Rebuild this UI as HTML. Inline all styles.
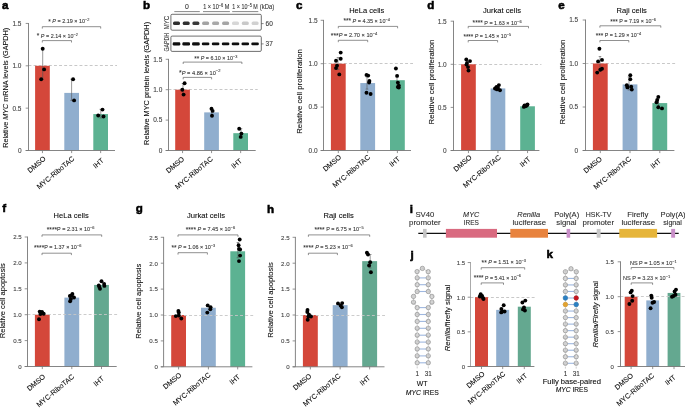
<!DOCTYPE html>
<html><head><meta charset="utf-8"><style>
html,body{margin:0;padding:0;background:#fff;overflow:hidden;}
svg{display:block;font-family:"Liberation Sans", sans-serif;will-change:transform;} text{stroke:#333;stroke-width:0.16px;stroke-opacity:0.55} text.nt{stroke:none} text.lt{stroke:#000;stroke-width:0.55px;stroke-opacity:1}
</style></head><body>
<svg width="685" height="408" viewBox="0 0 685 408">
<rect width="685" height="408" fill="#fff"/>
<line x1="28.50" y1="65.50" x2="117.00" y2="65.50" stroke="#c2c2c2" stroke-width="0.9" stroke-dasharray="2.9 2.2"/>
<rect x="35.10" y="65.80" width="14.70" height="84.70" fill="#d4473a"/>
<rect x="64.30" y="92.90" width="14.70" height="57.60" fill="#90aece"/>
<rect x="93.30" y="114.08" width="14.70" height="36.42" fill="#5cb292"/>
<line x1="42.70" y1="48.80" x2="42.70" y2="79.20" stroke="#555" stroke-width="0.6" />
<line x1="41.40" y1="48.80" x2="44.00" y2="48.80" stroke="#555" stroke-width="0.6" />
<line x1="41.40" y1="79.20" x2="44.00" y2="79.20" stroke="#555" stroke-width="0.6" />
<line x1="71.60" y1="79.20" x2="71.60" y2="100.40" stroke="#555" stroke-width="0.6" />
<line x1="70.30" y1="79.20" x2="72.90" y2="79.20" stroke="#555" stroke-width="0.6" />
<line x1="70.30" y1="100.40" x2="72.90" y2="100.40" stroke="#555" stroke-width="0.6" />
<line x1="100.80" y1="109.30" x2="100.80" y2="118.00" stroke="#555" stroke-width="0.6" />
<line x1="99.50" y1="109.30" x2="102.10" y2="109.30" stroke="#555" stroke-width="0.6" />
<line x1="99.50" y1="118.00" x2="102.10" y2="118.00" stroke="#555" stroke-width="0.6" />
<circle cx="42.70" cy="48.80" r="1.95" fill="#000" />
<circle cx="44.10" cy="69.40" r="1.95" fill="#000" />
<circle cx="41.20" cy="79.20" r="1.95" fill="#000" />
<circle cx="73.10" cy="79.20" r="1.95" fill="#000" />
<circle cx="74.10" cy="100.40" r="1.95" fill="#000" />
<circle cx="102.50" cy="109.60" r="1.95" fill="#000" />
<circle cx="98.20" cy="115.50" r="1.95" fill="#000" />
<circle cx="103.50" cy="116.50" r="1.95" fill="#000" />
<line x1="28.50" y1="23.05" x2="28.50" y2="150.50" stroke="#777" stroke-width="0.9" />
<line x1="25.70" y1="150.50" x2="115.00" y2="150.50" stroke="#777" stroke-width="0.9" />
<line x1="25.70" y1="150.50" x2="28.50" y2="150.50" stroke="#777" stroke-width="0.8" />
<text transform="translate(21.50,152.85)" font-size="6.5" text-anchor="end" fill="#444" >0</text>
<line x1="25.70" y1="108.15" x2="28.50" y2="108.15" stroke="#777" stroke-width="0.8" />
<text transform="translate(21.50,110.50)" font-size="6.5" text-anchor="end" fill="#444" >0.5</text>
<line x1="25.70" y1="65.80" x2="28.50" y2="65.80" stroke="#777" stroke-width="0.8" />
<text transform="translate(21.50,68.15)" font-size="6.5" text-anchor="end" fill="#444" >1.0</text>
<line x1="25.70" y1="23.45" x2="28.50" y2="23.45" stroke="#777" stroke-width="0.8" />
<text transform="translate(21.50,25.80)" font-size="6.5" text-anchor="end" fill="#444" >1.5</text>
<line x1="42.45" y1="150.50" x2="42.45" y2="153.10" stroke="#777" stroke-width="0.8" />
<text transform="translate(46.35,159.50) rotate(-40)" font-size="7.15" text-anchor="end" >DMSO</text>
<line x1="71.65" y1="150.50" x2="71.65" y2="153.10" stroke="#777" stroke-width="0.8" />
<text transform="translate(75.05,159.50) rotate(-40)" font-size="7.15" text-anchor="end" >MYC-RiboTAC</text>
<line x1="100.65" y1="150.50" x2="100.65" y2="153.10" stroke="#777" stroke-width="0.8" />
<text transform="translate(104.25,161.30) rotate(-40)" font-size="7.15" text-anchor="end" >IHT</text>
<text transform="translate(7.90,147.80) rotate(-90) scale(1.0962,1)" font-size="6.6" >Relative <tspan font-style="italic">MYC</tspan> mRNA levels (GAPDH)</text>
<path d="M42.30,28.60 V26.70 H100.70 V28.60" fill="none" stroke="#555" stroke-width="0.65"/>
<text transform="translate(48.30,23.40) scale(0.9092,1)" font-size="6.0" fill="#333" ><tspan font-size="1.2em" dy="0.60">*</tspan><tspan dy="-0.60"> </tspan><tspan font-style="italic">P</tspan> = 2.19 × 10<tspan font-size="0.72em" dy="-2.10">−2</tspan></text>
<path d="M42.30,42.50 V40.60 H71.50 V42.50" fill="none" stroke="#555" stroke-width="0.65"/>
<text transform="translate(36.80,37.80) scale(0.9048,1)" font-size="6.0" fill="#333" ><tspan font-size="1.2em" dy="0.60">*</tspan><tspan dy="-0.60"> </tspan><tspan font-style="italic">P</tspan> = 2.14 × 10<tspan font-size="0.72em" dy="-2.10">−2</tspan></text>
<text transform="translate(2.11,8.50)" font-size="11.6" font-weight="bold" fill="#000" class="lt">a</text>
<line x1="168.50" y1="89.50" x2="257.70" y2="89.50" stroke="#c2c2c2" stroke-width="0.9" stroke-dasharray="2.9 2.2"/>
<rect x="175.20" y="89.70" width="14.70" height="60.80" fill="#d4473a"/>
<rect x="204.20" y="112.38" width="14.70" height="38.12" fill="#90aece"/>
<rect x="233.30" y="133.17" width="14.70" height="17.33" fill="#5cb292"/>
<line x1="183.00" y1="83.50" x2="183.00" y2="95.50" stroke="#555" stroke-width="0.6" />
<line x1="181.70" y1="83.50" x2="184.30" y2="83.50" stroke="#555" stroke-width="0.6" />
<line x1="181.70" y1="95.50" x2="184.30" y2="95.50" stroke="#555" stroke-width="0.6" />
<line x1="211.80" y1="108.50" x2="211.80" y2="116.00" stroke="#555" stroke-width="0.6" />
<line x1="210.50" y1="108.50" x2="213.10" y2="108.50" stroke="#555" stroke-width="0.6" />
<line x1="210.50" y1="116.00" x2="213.10" y2="116.00" stroke="#555" stroke-width="0.6" />
<line x1="241.00" y1="128.70" x2="241.00" y2="137.00" stroke="#555" stroke-width="0.6" />
<line x1="239.70" y1="128.70" x2="242.30" y2="128.70" stroke="#555" stroke-width="0.6" />
<line x1="239.70" y1="137.00" x2="242.30" y2="137.00" stroke="#555" stroke-width="0.6" />
<circle cx="184.60" cy="83.20" r="1.95" fill="#000" />
<circle cx="182.30" cy="89.70" r="1.95" fill="#000" />
<circle cx="183.60" cy="94.60" r="1.95" fill="#000" />
<circle cx="211.50" cy="108.70" r="1.95" fill="#000" />
<circle cx="212.60" cy="110.90" r="1.95" fill="#000" />
<circle cx="212.00" cy="115.80" r="1.95" fill="#000" />
<circle cx="239.20" cy="128.70" r="1.95" fill="#000" />
<circle cx="241.40" cy="133.60" r="1.95" fill="#000" />
<circle cx="240.70" cy="136.90" r="1.95" fill="#000" />
<line x1="168.50" y1="58.90" x2="168.50" y2="150.50" stroke="#777" stroke-width="0.9" />
<line x1="165.70" y1="150.50" x2="255.70" y2="150.50" stroke="#777" stroke-width="0.9" />
<line x1="165.70" y1="150.50" x2="168.50" y2="150.50" stroke="#777" stroke-width="0.8" />
<text transform="translate(162.30,152.85)" font-size="6.5" text-anchor="end" fill="#444" >0</text>
<line x1="165.70" y1="120.10" x2="168.50" y2="120.10" stroke="#777" stroke-width="0.8" />
<text transform="translate(162.30,122.45)" font-size="6.5" text-anchor="end" fill="#444" >0.5</text>
<line x1="165.70" y1="89.70" x2="168.50" y2="89.70" stroke="#777" stroke-width="0.8" />
<text transform="translate(162.30,92.05)" font-size="6.5" text-anchor="end" fill="#444" >1.0</text>
<line x1="165.70" y1="59.30" x2="168.50" y2="59.30" stroke="#777" stroke-width="0.8" />
<text transform="translate(162.30,61.65)" font-size="6.5" text-anchor="end" fill="#444" >1.5</text>
<line x1="182.55" y1="150.50" x2="182.55" y2="153.10" stroke="#777" stroke-width="0.8" />
<text transform="translate(184.85,159.80) rotate(-40)" font-size="7.15" text-anchor="end" >DMSO</text>
<line x1="211.55" y1="150.50" x2="211.55" y2="153.10" stroke="#777" stroke-width="0.8" />
<text transform="translate(213.35,159.80) rotate(-40)" font-size="7.15" text-anchor="end" >MYC-RiboTAC</text>
<line x1="240.65" y1="150.50" x2="240.65" y2="153.10" stroke="#777" stroke-width="0.8" />
<text transform="translate(242.65,161.60) rotate(-40)" font-size="7.15" text-anchor="end" >IHT</text>
<text transform="translate(148.90,144.90) rotate(-90) scale(1.1122,1)" font-size="6.6" >Relative MYC protein levels (GAPDH)</text>
<path d="M183.20,64.00 V62.10 H241.90 V64.00" fill="none" stroke="#555" stroke-width="0.65"/>
<text transform="translate(194.20,60.20) scale(0.8937,1)" font-size="6.0" fill="#333" ><tspan font-size="1.2em" dy="0.60">**</tspan><tspan dy="-0.60"> </tspan><tspan font-style="italic">P</tspan> = 6.10 × 10<tspan font-size="0.72em" dy="-2.10">−3</tspan></text>
<path d="M183.20,79.30 V77.40 H211.60 V79.30" fill="none" stroke="#555" stroke-width="0.65"/>
<text transform="translate(179.10,74.50) scale(0.9461,1)" font-size="6.0" fill="#333" ><tspan font-size="1.2em" dy="0.60">*</tspan><tspan font-style="italic" dy="-0.60">P</tspan> = 4.86 × 10<tspan font-size="0.72em" dy="-2.10">−2</tspan></text>
<text transform="translate(142.99,8.50)" font-size="11.6" font-weight="bold" fill="#000" class="lt">b</text>
<line x1="323.50" y1="63.50" x2="413.00" y2="63.50" stroke="#c2c2c2" stroke-width="0.9" stroke-dasharray="2.9 2.2"/>
<rect x="330.90" y="63.70" width="14.80" height="86.80" fill="#d4473a"/>
<rect x="360.30" y="83.06" width="14.80" height="67.44" fill="#90aece"/>
<rect x="390.00" y="80.19" width="14.80" height="70.31" fill="#5cb292"/>
<line x1="338.00" y1="57.50" x2="338.00" y2="69.50" stroke="#555" stroke-width="0.6" />
<line x1="336.70" y1="57.50" x2="339.30" y2="57.50" stroke="#555" stroke-width="0.6" />
<line x1="336.70" y1="69.50" x2="339.30" y2="69.50" stroke="#555" stroke-width="0.6" />
<line x1="367.00" y1="77.00" x2="367.00" y2="89.10" stroke="#555" stroke-width="0.6" />
<line x1="365.70" y1="77.00" x2="368.30" y2="77.00" stroke="#555" stroke-width="0.6" />
<line x1="365.70" y1="89.10" x2="368.30" y2="89.10" stroke="#555" stroke-width="0.6" />
<line x1="397.00" y1="75.00" x2="397.00" y2="87.00" stroke="#555" stroke-width="0.6" />
<line x1="395.70" y1="75.00" x2="398.30" y2="75.00" stroke="#555" stroke-width="0.6" />
<line x1="395.70" y1="87.00" x2="398.30" y2="87.00" stroke="#555" stroke-width="0.6" />
<circle cx="340.70" cy="52.60" r="1.95" fill="#000" />
<circle cx="340.70" cy="58.70" r="1.95" fill="#000" />
<circle cx="336.00" cy="60.70" r="1.95" fill="#000" />
<circle cx="337.00" cy="65.60" r="1.95" fill="#000" />
<circle cx="336.00" cy="68.10" r="1.95" fill="#000" />
<circle cx="339.30" cy="74.40" r="1.95" fill="#000" />
<circle cx="366.50" cy="74.90" r="1.95" fill="#000" />
<circle cx="368.20" cy="75.60" r="1.95" fill="#000" />
<circle cx="369.40" cy="81.00" r="1.95" fill="#000" />
<circle cx="369.10" cy="82.50" r="1.95" fill="#000" />
<circle cx="366.50" cy="92.80" r="1.95" fill="#000" />
<circle cx="370.60" cy="94.00" r="1.95" fill="#000" />
<circle cx="395.90" cy="68.50" r="1.95" fill="#000" />
<circle cx="397.10" cy="75.90" r="1.95" fill="#000" />
<circle cx="397.90" cy="82.60" r="1.95" fill="#000" />
<circle cx="398.80" cy="85.60" r="1.95" fill="#000" />
<circle cx="397.90" cy="87.10" r="1.95" fill="#000" />
<circle cx="398.80" cy="87.60" r="1.95" fill="#000" />
<line x1="323.50" y1="19.90" x2="323.50" y2="150.50" stroke="#777" stroke-width="0.9" />
<line x1="320.70" y1="150.50" x2="411.00" y2="150.50" stroke="#777" stroke-width="0.9" />
<line x1="320.70" y1="150.50" x2="323.50" y2="150.50" stroke="#777" stroke-width="0.8" />
<text transform="translate(317.60,152.85)" font-size="6.5" text-anchor="end" fill="#444" >0.0</text>
<line x1="320.70" y1="107.10" x2="323.50" y2="107.10" stroke="#777" stroke-width="0.8" />
<text transform="translate(317.60,109.45)" font-size="6.5" text-anchor="end" fill="#444" >0.5</text>
<line x1="320.70" y1="63.70" x2="323.50" y2="63.70" stroke="#777" stroke-width="0.8" />
<text transform="translate(317.60,66.05)" font-size="6.5" text-anchor="end" fill="#444" >1.0</text>
<line x1="320.70" y1="20.30" x2="323.50" y2="20.30" stroke="#777" stroke-width="0.8" />
<text transform="translate(317.60,22.65)" font-size="6.5" text-anchor="end" fill="#444" >1.5</text>
<line x1="338.30" y1="150.50" x2="338.30" y2="153.10" stroke="#777" stroke-width="0.8" />
<text transform="translate(341.80,158.00) rotate(-40)" font-size="7.15" text-anchor="end" >DMSO</text>
<line x1="367.70" y1="150.50" x2="367.70" y2="153.10" stroke="#777" stroke-width="0.8" />
<text transform="translate(370.70,158.00) rotate(-40)" font-size="7.15" text-anchor="end" >MYC-RiboTAC</text>
<line x1="397.40" y1="150.50" x2="397.40" y2="153.10" stroke="#777" stroke-width="0.8" />
<text transform="translate(400.60,159.80) rotate(-40)" font-size="7.15" text-anchor="end" >IHT</text>
<text transform="translate(301.80,133.80) rotate(-90) scale(1.1780,1)" font-size="6.6" >Relative cell proliferation</text>
<path d="M338.30,28.30 V26.40 H397.60 V28.30" fill="none" stroke="#555" stroke-width="0.65"/>
<text transform="translate(343.40,22.60) scale(0.9132,1)" font-size="6.0" fill="#333" ><tspan font-size="1.2em" dy="0.60">***</tspan><tspan dy="-0.60"> </tspan><tspan font-style="italic">P</tspan> = 4.35 × 10<tspan font-size="0.72em" dy="-2.10">−4</tspan></text>
<path d="M338.30,42.20 V40.30 H367.70 V42.20" fill="none" stroke="#555" stroke-width="0.65"/>
<text transform="translate(330.80,37.30) scale(0.9441,1)" font-size="6.0" fill="#333" ><tspan font-size="1.2em" dy="0.60">***</tspan><tspan font-style="italic" dy="-0.60">P</tspan> = 2.70 × 10<tspan font-size="0.72em" dy="-2.10">−4</tspan></text>
<text transform="translate(349.20,13.40) scale(0.9763,1)" font-size="7.7" >HeLa cells</text>
<text transform="translate(296.10,8.60)" font-size="11.6" font-weight="bold" fill="#000" class="lt">c</text>
<line x1="453.50" y1="64.50" x2="541.40" y2="64.50" stroke="#c2c2c2" stroke-width="0.9" stroke-dasharray="2.9 2.2"/>
<rect x="461.10" y="64.30" width="14.70" height="86.20" fill="#d4473a"/>
<rect x="490.60" y="88.44" width="14.70" height="62.06" fill="#90aece"/>
<rect x="520.20" y="106.28" width="14.70" height="44.22" fill="#5cb292"/>
<circle cx="466.30" cy="59.40" r="1.95" fill="#000" />
<circle cx="470.00" cy="61.10" r="1.95" fill="#000" />
<circle cx="467.00" cy="62.90" r="1.95" fill="#000" />
<circle cx="466.50" cy="64.60" r="1.95" fill="#000" />
<circle cx="468.00" cy="67.10" r="1.95" fill="#000" />
<circle cx="468.50" cy="70.60" r="1.95" fill="#000" />
<circle cx="498.90" cy="85.10" r="1.95" fill="#000" />
<circle cx="496.50" cy="86.90" r="1.95" fill="#000" />
<circle cx="497.00" cy="89.40" r="1.95" fill="#000" />
<circle cx="500.00" cy="90.30" r="1.95" fill="#000" />
<circle cx="498.00" cy="88.00" r="1.95" fill="#000" />
<circle cx="495.00" cy="88.50" r="1.95" fill="#000" />
<circle cx="525.40" cy="105.70" r="1.95" fill="#000" />
<circle cx="527.50" cy="104.50" r="1.95" fill="#000" />
<circle cx="523.90" cy="106.90" r="1.95" fill="#000" />
<circle cx="526.00" cy="106.00" r="1.95" fill="#000" />
<circle cx="524.50" cy="105.50" r="1.95" fill="#000" />
<circle cx="527.00" cy="105.20" r="1.95" fill="#000" />
<line x1="453.50" y1="20.80" x2="453.50" y2="150.50" stroke="#777" stroke-width="0.9" />
<line x1="450.70" y1="150.50" x2="539.40" y2="150.50" stroke="#777" stroke-width="0.9" />
<line x1="450.70" y1="150.50" x2="453.50" y2="150.50" stroke="#777" stroke-width="0.8" />
<text transform="translate(446.70,152.85)" font-size="6.5" text-anchor="end" fill="#444" >0</text>
<line x1="450.70" y1="107.40" x2="453.50" y2="107.40" stroke="#777" stroke-width="0.8" />
<text transform="translate(446.70,109.75)" font-size="6.5" text-anchor="end" fill="#444" >0.5</text>
<line x1="450.70" y1="64.30" x2="453.50" y2="64.30" stroke="#777" stroke-width="0.8" />
<text transform="translate(446.70,66.65)" font-size="6.5" text-anchor="end" fill="#444" >1.0</text>
<line x1="450.70" y1="21.20" x2="453.50" y2="21.20" stroke="#777" stroke-width="0.8" />
<text transform="translate(446.70,23.55)" font-size="6.5" text-anchor="end" fill="#444" >1.5</text>
<line x1="468.45" y1="150.50" x2="468.45" y2="153.10" stroke="#777" stroke-width="0.8" />
<text transform="translate(472.35,158.20) rotate(-40)" font-size="7.15" text-anchor="end" >DMSO</text>
<line x1="497.95" y1="150.50" x2="497.95" y2="153.10" stroke="#777" stroke-width="0.8" />
<text transform="translate(501.35,158.20) rotate(-40)" font-size="7.15" text-anchor="end" >MYC-RiboTAC</text>
<line x1="527.55" y1="150.50" x2="527.55" y2="153.10" stroke="#777" stroke-width="0.8" />
<text transform="translate(531.15,160.00) rotate(-40)" font-size="7.15" text-anchor="end" >IHT</text>
<text transform="translate(433.80,124.50) rotate(-90) scale(1.1808,1)" font-size="6.6" >Relative cell proliferation</text>
<path d="M468.20,28.30 V26.40 H528.50 V28.30" fill="none" stroke="#555" stroke-width="0.65"/>
<text transform="translate(472.60,24.70) scale(0.9140,1)" font-size="6.0" fill="#333" ><tspan font-size="1.2em" dy="0.60">****</tspan><tspan dy="-0.60"> </tspan>P = 1.63 × 10<tspan font-size="0.72em" dy="-2.10">−6</tspan></text>
<path d="M468.20,42.40 V40.50 H497.60 V42.40" fill="none" stroke="#555" stroke-width="0.65"/>
<text transform="translate(463.40,38.30) scale(0.8861,1)" font-size="6.0" fill="#333" ><tspan font-size="1.2em" dy="0.60">****</tspan><tspan dy="-0.60"> </tspan><tspan font-style="italic">P</tspan> = 1.45 × 10<tspan font-size="0.72em" dy="-2.10">−5</tspan></text>
<text transform="translate(483.00,13.40) scale(0.9893,1)" font-size="7.7" >Jurkat cells</text>
<text transform="translate(427.17,8.50)" font-size="11.6" font-weight="bold" fill="#000" class="lt">d</text>
<line x1="585.50" y1="63.50" x2="676.40" y2="63.50" stroke="#c2c2c2" stroke-width="0.9" stroke-dasharray="2.9 2.2"/>
<rect x="592.90" y="63.50" width="14.80" height="87.00" fill="#d4473a"/>
<rect x="622.60" y="84.38" width="14.80" height="66.12" fill="#90aece"/>
<rect x="652.40" y="103.08" width="14.80" height="47.42" fill="#5cb292"/>
<line x1="600.00" y1="56.50" x2="600.00" y2="71.00" stroke="#555" stroke-width="0.6" />
<line x1="598.70" y1="56.50" x2="601.30" y2="56.50" stroke="#555" stroke-width="0.6" />
<line x1="598.70" y1="71.00" x2="601.30" y2="71.00" stroke="#555" stroke-width="0.6" />
<line x1="629.00" y1="77.00" x2="629.00" y2="90.00" stroke="#555" stroke-width="0.6" />
<line x1="627.70" y1="77.00" x2="630.30" y2="77.00" stroke="#555" stroke-width="0.6" />
<line x1="627.70" y1="90.00" x2="630.30" y2="90.00" stroke="#555" stroke-width="0.6" />
<line x1="658.50" y1="99.00" x2="658.50" y2="107.00" stroke="#555" stroke-width="0.6" />
<line x1="657.20" y1="99.00" x2="659.80" y2="99.00" stroke="#555" stroke-width="0.6" />
<line x1="657.20" y1="107.00" x2="659.80" y2="107.00" stroke="#555" stroke-width="0.6" />
<circle cx="599.40" cy="48.80" r="1.95" fill="#000" />
<circle cx="602.00" cy="59.90" r="1.95" fill="#000" />
<circle cx="598.10" cy="61.40" r="1.95" fill="#000" />
<circle cx="602.00" cy="68.70" r="1.95" fill="#000" />
<circle cx="600.30" cy="69.80" r="1.95" fill="#000" />
<circle cx="597.20" cy="72.60" r="1.95" fill="#000" />
<circle cx="630.30" cy="75.30" r="1.95" fill="#000" />
<circle cx="630.30" cy="79.30" r="1.95" fill="#000" />
<circle cx="626.80" cy="85.20" r="1.95" fill="#000" />
<circle cx="627.40" cy="87.40" r="1.95" fill="#000" />
<circle cx="631.20" cy="86.80" r="1.95" fill="#000" />
<circle cx="631.80" cy="89.60" r="1.95" fill="#000" />
<circle cx="658.30" cy="96.90" r="1.95" fill="#000" />
<circle cx="657.20" cy="100.00" r="1.95" fill="#000" />
<circle cx="656.50" cy="102.20" r="1.95" fill="#000" />
<circle cx="658.30" cy="107.30" r="1.95" fill="#000" />
<circle cx="662.00" cy="108.40" r="1.95" fill="#000" />
<line x1="585.50" y1="19.60" x2="585.50" y2="150.50" stroke="#777" stroke-width="0.9" />
<line x1="582.70" y1="150.50" x2="674.40" y2="150.50" stroke="#777" stroke-width="0.9" />
<line x1="582.70" y1="150.50" x2="585.50" y2="150.50" stroke="#777" stroke-width="0.8" />
<text transform="translate(578.20,152.85)" font-size="6.5" text-anchor="end" fill="#444" >0</text>
<line x1="582.70" y1="107.00" x2="585.50" y2="107.00" stroke="#777" stroke-width="0.8" />
<text transform="translate(578.20,109.35)" font-size="6.5" text-anchor="end" fill="#444" >0.5</text>
<line x1="582.70" y1="63.50" x2="585.50" y2="63.50" stroke="#777" stroke-width="0.8" />
<text transform="translate(578.20,65.85)" font-size="6.5" text-anchor="end" fill="#444" >1.0</text>
<line x1="582.70" y1="20.00" x2="585.50" y2="20.00" stroke="#777" stroke-width="0.8" />
<text transform="translate(578.20,22.35)" font-size="6.5" text-anchor="end" fill="#444" >1.5</text>
<line x1="600.30" y1="150.50" x2="600.30" y2="153.10" stroke="#777" stroke-width="0.8" />
<text transform="translate(602.50,159.80) rotate(-40)" font-size="7.15" text-anchor="end" >DMSO</text>
<line x1="630.00" y1="150.50" x2="630.00" y2="153.10" stroke="#777" stroke-width="0.8" />
<text transform="translate(631.70,159.80) rotate(-40)" font-size="7.15" text-anchor="end" >MYC-RiboTAC</text>
<line x1="659.80" y1="150.50" x2="659.80" y2="153.10" stroke="#777" stroke-width="0.8" />
<text transform="translate(661.70,161.60) rotate(-40)" font-size="7.15" text-anchor="end" >IHT</text>
<text transform="translate(564.80,124.50) rotate(-90) scale(1.1808,1)" font-size="6.6" >Relative cell proliferation</text>
<path d="M599.90,27.70 V25.80 H660.80 V27.70" fill="none" stroke="#555" stroke-width="0.65"/>
<text transform="translate(610.20,23.20) scale(0.8995,1)" font-size="6.0" fill="#333" ><tspan font-size="1.2em" dy="0.60">***</tspan><tspan dy="-0.60"> </tspan>P = 7.19 × 10<tspan font-size="0.72em" dy="-2.10">−6</tspan></text>
<path d="M599.90,42.40 V40.50 H628.80 V42.40" fill="none" stroke="#555" stroke-width="0.65"/>
<text transform="translate(595.80,37.10) scale(0.8936,1)" font-size="6.0" fill="#333" ><tspan font-size="1.2em" dy="0.60">***</tspan><tspan dy="-0.60"> </tspan>P = 1.29 × 10<tspan font-size="0.72em" dy="-2.10">−4</tspan></text>
<text transform="translate(616.60,13.40) scale(0.9835,1)" font-size="7.7" >Raji cells</text>
<text transform="translate(558.30,8.60)" font-size="11.6" font-weight="bold" fill="#000" class="lt">e</text>
<rect x="34.90" y="314.70" width="14.80" height="51.80" fill="#d4473a"/>
<rect x="64.40" y="297.61" width="14.80" height="68.89" fill="#90aece"/>
<rect x="94.10" y="284.92" width="14.80" height="81.58" fill="#64a890"/>
<line x1="27.50" y1="314.50" x2="118.70" y2="314.50" stroke="#c6c6c6" stroke-width="0.9" stroke-dasharray="2.9 2.2"/>
<circle cx="39.70" cy="311.60" r="1.95" fill="#000" />
<circle cx="41.90" cy="312.60" r="1.95" fill="#000" />
<circle cx="43.70" cy="313.70" r="1.95" fill="#000" />
<circle cx="40.40" cy="314.10" r="1.95" fill="#000" />
<circle cx="39.00" cy="319.30" r="1.95" fill="#000" />
<circle cx="42.00" cy="312.00" r="1.95" fill="#000" />
<circle cx="72.40" cy="294.00" r="1.95" fill="#000" />
<circle cx="69.90" cy="296.00" r="1.95" fill="#000" />
<circle cx="74.00" cy="297.50" r="1.95" fill="#000" />
<circle cx="70.90" cy="299.00" r="1.95" fill="#000" />
<circle cx="70.10" cy="301.20" r="1.95" fill="#000" />
<circle cx="71.50" cy="295.50" r="1.95" fill="#000" />
<circle cx="101.50" cy="281.30" r="1.95" fill="#000" />
<circle cx="104.10" cy="284.00" r="1.95" fill="#000" />
<circle cx="98.80" cy="285.40" r="1.95" fill="#000" />
<circle cx="104.40" cy="285.90" r="1.95" fill="#000" />
<circle cx="100.00" cy="288.80" r="1.95" fill="#000" />
<circle cx="99.30" cy="286.90" r="1.95" fill="#000" />
<line x1="27.50" y1="236.60" x2="27.50" y2="366.50" stroke="#777" stroke-width="0.9" />
<line x1="24.70" y1="366.50" x2="116.70" y2="366.50" stroke="#777" stroke-width="0.9" />
<line x1="24.70" y1="366.50" x2="27.50" y2="366.50" stroke="#777" stroke-width="0.8" />
<text transform="translate(21.70,368.85)" font-size="6.1" text-anchor="end" fill="#444" >0</text>
<line x1="24.70" y1="340.60" x2="27.50" y2="340.60" stroke="#777" stroke-width="0.8" />
<text transform="translate(21.70,342.95)" font-size="6.1" text-anchor="end" fill="#444" >0.5</text>
<line x1="24.70" y1="314.70" x2="27.50" y2="314.70" stroke="#777" stroke-width="0.8" />
<text transform="translate(21.70,317.05)" font-size="6.1" text-anchor="end" fill="#444" >1.0</text>
<line x1="24.70" y1="288.80" x2="27.50" y2="288.80" stroke="#777" stroke-width="0.8" />
<text transform="translate(21.70,291.15)" font-size="6.1" text-anchor="end" fill="#444" >1.5</text>
<line x1="24.70" y1="262.90" x2="27.50" y2="262.90" stroke="#777" stroke-width="0.8" />
<text transform="translate(21.70,265.25)" font-size="6.1" text-anchor="end" fill="#444" >2.0</text>
<line x1="24.70" y1="237.00" x2="27.50" y2="237.00" stroke="#777" stroke-width="0.8" />
<text transform="translate(21.70,239.35)" font-size="6.1" text-anchor="end" fill="#444" >2.5</text>
<line x1="42.30" y1="366.50" x2="42.30" y2="369.10" stroke="#777" stroke-width="0.8" />
<text transform="translate(45.80,377.50) rotate(-40)" font-size="7.15" text-anchor="end" >DMSO</text>
<line x1="71.80" y1="366.50" x2="71.80" y2="369.10" stroke="#777" stroke-width="0.8" />
<text transform="translate(74.80,377.50) rotate(-40)" font-size="7.15" text-anchor="end" >MYC-RiboTAC</text>
<line x1="101.50" y1="366.50" x2="101.50" y2="369.10" stroke="#777" stroke-width="0.8" />
<text transform="translate(104.70,379.30) rotate(-40)" font-size="7.15" text-anchor="end" >IHT</text>
<text transform="translate(5.30,338.20) rotate(-90) scale(1.1436,1)" font-size="6.6" >Relative cell apoptosis</text>
<path d="M42.00,236.80 V234.90 H101.70 V236.80" fill="none" stroke="#555" stroke-width="0.65"/>
<text transform="translate(46.80,231.30) scale(0.9164,1)" font-size="6.0" fill="#333" ><tspan font-size="1.2em" dy="0.60">****</tspan><tspan dy="-0.60">P</tspan> = 2.31 × 10<tspan font-size="0.72em" dy="-2.10">−6</tspan></text>
<path d="M42.00,255.10 V253.20 H71.40 V255.10" fill="none" stroke="#555" stroke-width="0.65"/>
<text transform="translate(34.00,249.40) scale(0.9106,1)" font-size="6.0" fill="#333" ><tspan font-size="1.2em" dy="0.60">****</tspan><tspan dy="-0.60">P</tspan> = 1.37 × 10<tspan font-size="0.72em" dy="-2.10">−6</tspan></text>
<text transform="translate(53.60,217.50) scale(0.9791,1)" font-size="7.7" >HeLa cells</text>
<text transform="translate(2.25,212.40)" font-size="11.6" font-weight="bold" fill="#000" class="lt">f</text>
<rect x="171.20" y="315.00" width="14.80" height="51.80" fill="#d4473a"/>
<rect x="201.00" y="307.75" width="14.80" height="59.05" fill="#90aece"/>
<rect x="230.30" y="251.29" width="14.80" height="115.51" fill="#5cb292"/>
<line x1="163.60" y1="315.50" x2="254.40" y2="315.50" stroke="#c6c6c6" stroke-width="0.9" stroke-dasharray="2.9 2.2"/>
<line x1="237.90" y1="242.50" x2="237.90" y2="257.80" stroke="#555" stroke-width="0.6" />
<line x1="236.60" y1="242.50" x2="239.20" y2="242.50" stroke="#555" stroke-width="0.6" />
<line x1="236.60" y1="257.80" x2="239.20" y2="257.80" stroke="#555" stroke-width="0.6" />
<circle cx="178.40" cy="310.90" r="1.95" fill="#000" />
<circle cx="178.80" cy="312.60" r="1.95" fill="#000" />
<circle cx="175.80" cy="316.10" r="1.95" fill="#000" />
<circle cx="178.80" cy="315.50" r="1.95" fill="#000" />
<circle cx="181.30" cy="318.50" r="1.95" fill="#000" />
<circle cx="207.70" cy="305.40" r="1.95" fill="#000" />
<circle cx="210.60" cy="307.30" r="1.95" fill="#000" />
<circle cx="210.30" cy="309.30" r="1.95" fill="#000" />
<circle cx="207.30" cy="312.60" r="1.95" fill="#000" />
<circle cx="239.70" cy="239.50" r="1.95" fill="#000" />
<circle cx="238.60" cy="245.30" r="1.95" fill="#000" />
<circle cx="239.00" cy="249.00" r="1.95" fill="#000" />
<circle cx="240.10" cy="249.50" r="1.95" fill="#000" />
<circle cx="240.10" cy="255.60" r="1.95" fill="#000" />
<circle cx="239.00" cy="261.10" r="1.95" fill="#000" />
<line x1="163.60" y1="236.90" x2="163.60" y2="366.80" stroke="#777" stroke-width="0.9" />
<line x1="160.80" y1="366.80" x2="252.40" y2="366.80" stroke="#777" stroke-width="0.9" />
<line x1="160.80" y1="366.80" x2="163.60" y2="366.80" stroke="#777" stroke-width="0.8" />
<text transform="translate(157.80,369.15)" font-size="6.1" text-anchor="end" fill="#444" >0</text>
<line x1="160.80" y1="340.90" x2="163.60" y2="340.90" stroke="#777" stroke-width="0.8" />
<text transform="translate(157.80,343.25)" font-size="6.1" text-anchor="end" fill="#444" >0.5</text>
<line x1="160.80" y1="315.00" x2="163.60" y2="315.00" stroke="#777" stroke-width="0.8" />
<text transform="translate(157.80,317.35)" font-size="6.1" text-anchor="end" fill="#444" >1.0</text>
<line x1="160.80" y1="289.10" x2="163.60" y2="289.10" stroke="#777" stroke-width="0.8" />
<text transform="translate(157.80,291.45)" font-size="6.1" text-anchor="end" fill="#444" >1.5</text>
<line x1="160.80" y1="263.20" x2="163.60" y2="263.20" stroke="#777" stroke-width="0.8" />
<text transform="translate(157.80,265.55)" font-size="6.1" text-anchor="end" fill="#444" >2.0</text>
<line x1="160.80" y1="237.30" x2="163.60" y2="237.30" stroke="#777" stroke-width="0.8" />
<text transform="translate(157.80,239.65)" font-size="6.1" text-anchor="end" fill="#444" >2.5</text>
<line x1="178.60" y1="366.80" x2="178.60" y2="369.40" stroke="#777" stroke-width="0.8" />
<text transform="translate(181.90,375.80) rotate(-40)" font-size="7.15" text-anchor="end" >DMSO</text>
<line x1="208.40" y1="366.80" x2="208.40" y2="369.40" stroke="#777" stroke-width="0.8" />
<text transform="translate(211.20,375.80) rotate(-40)" font-size="7.15" text-anchor="end" >MYC-RiboTAC</text>
<line x1="237.70" y1="366.80" x2="237.70" y2="369.40" stroke="#777" stroke-width="0.8" />
<text transform="translate(240.70,377.60) rotate(-40)" font-size="7.15" text-anchor="end" >IHT</text>
<text transform="translate(141.40,338.70) rotate(-90) scale(1.1436,1)" font-size="6.6" >Relative cell apoptosis</text>
<path d="M178.00,236.80 V234.90 H238.00 V236.80" fill="none" stroke="#555" stroke-width="0.65"/>
<text transform="translate(185.70,231.30) scale(0.9196,1)" font-size="6.0" fill="#333" ><tspan font-size="1.2em" dy="0.60">****</tspan><tspan dy="-0.60"> </tspan><tspan font-style="italic">P</tspan> = 7.45 × 10<tspan font-size="0.72em" dy="-2.10">−6</tspan></text>
<path d="M178.00,254.60 V252.70 H207.40 V254.60" fill="none" stroke="#555" stroke-width="0.65"/>
<text transform="translate(171.50,249.20) scale(0.9082,1)" font-size="6.0" fill="#333" ><tspan font-size="1.2em" dy="0.60">**</tspan><tspan dy="-0.60"> </tspan><tspan font-style="italic">P</tspan> = 1.06 × 10<tspan font-size="0.72em" dy="-2.10">−3</tspan></text>
<text transform="translate(187.00,217.60) scale(0.9893,1)" font-size="7.7" >Jurkat cells</text>
<text transform="translate(135.87,212.20)" font-size="11.6" font-weight="bold" fill="#000" class="lt">g</text>
<rect x="302.90" y="315.00" width="14.90" height="51.80" fill="#d4473a"/>
<rect x="332.70" y="305.16" width="14.90" height="61.64" fill="#90aece"/>
<rect x="362.20" y="261.13" width="14.90" height="105.67" fill="#64a890"/>
<line x1="295.40" y1="315.50" x2="386.50" y2="315.50" stroke="#c6c6c6" stroke-width="0.9" stroke-dasharray="2.9 2.2"/>
<line x1="370.20" y1="254.50" x2="370.20" y2="268.00" stroke="#555" stroke-width="0.6" />
<line x1="368.90" y1="254.50" x2="371.50" y2="254.50" stroke="#555" stroke-width="0.6" />
<line x1="368.90" y1="268.00" x2="371.50" y2="268.00" stroke="#555" stroke-width="0.6" />
<circle cx="307.50" cy="310.00" r="1.95" fill="#000" />
<circle cx="307.30" cy="312.00" r="1.95" fill="#000" />
<circle cx="309.00" cy="314.60" r="1.95" fill="#000" />
<circle cx="311.00" cy="316.50" r="1.95" fill="#000" />
<circle cx="308.40" cy="316.50" r="1.95" fill="#000" />
<circle cx="307.70" cy="319.80" r="1.95" fill="#000" />
<circle cx="338.00" cy="303.40" r="1.95" fill="#000" />
<circle cx="342.20" cy="303.10" r="1.95" fill="#000" />
<circle cx="340.60" cy="305.40" r="1.95" fill="#000" />
<circle cx="341.90" cy="307.30" r="1.95" fill="#000" />
<circle cx="366.90" cy="252.80" r="1.95" fill="#000" />
<circle cx="368.00" cy="254.50" r="1.95" fill="#000" />
<circle cx="370.20" cy="262.20" r="1.95" fill="#000" />
<circle cx="369.10" cy="265.50" r="1.95" fill="#000" />
<circle cx="370.90" cy="272.20" r="1.95" fill="#000" />
<line x1="295.40" y1="236.90" x2="295.40" y2="366.80" stroke="#777" stroke-width="0.9" />
<line x1="292.60" y1="366.80" x2="384.50" y2="366.80" stroke="#777" stroke-width="0.9" />
<line x1="292.60" y1="366.80" x2="295.40" y2="366.80" stroke="#777" stroke-width="0.8" />
<text transform="translate(289.60,369.15)" font-size="6.1" text-anchor="end" fill="#444" >0</text>
<line x1="292.60" y1="340.90" x2="295.40" y2="340.90" stroke="#777" stroke-width="0.8" />
<text transform="translate(289.60,343.25)" font-size="6.1" text-anchor="end" fill="#444" >0.5</text>
<line x1="292.60" y1="315.00" x2="295.40" y2="315.00" stroke="#777" stroke-width="0.8" />
<text transform="translate(289.60,317.35)" font-size="6.1" text-anchor="end" fill="#444" >1.0</text>
<line x1="292.60" y1="289.10" x2="295.40" y2="289.10" stroke="#777" stroke-width="0.8" />
<text transform="translate(289.60,291.45)" font-size="6.1" text-anchor="end" fill="#444" >1.5</text>
<line x1="292.60" y1="263.20" x2="295.40" y2="263.20" stroke="#777" stroke-width="0.8" />
<text transform="translate(289.60,265.55)" font-size="6.1" text-anchor="end" fill="#444" >2.0</text>
<line x1="292.60" y1="237.30" x2="295.40" y2="237.30" stroke="#777" stroke-width="0.8" />
<text transform="translate(289.60,239.65)" font-size="6.1" text-anchor="end" fill="#444" >2.5</text>
<line x1="310.35" y1="366.80" x2="310.35" y2="369.40" stroke="#777" stroke-width="0.8" />
<text transform="translate(311.95,376.80) rotate(-40)" font-size="7.15" text-anchor="end" >DMSO</text>
<line x1="340.15" y1="366.80" x2="340.15" y2="369.40" stroke="#777" stroke-width="0.8" />
<text transform="translate(341.25,376.80) rotate(-40)" font-size="7.15" text-anchor="end" >MYC-RiboTAC</text>
<line x1="369.65" y1="366.80" x2="369.65" y2="369.40" stroke="#777" stroke-width="0.8" />
<text transform="translate(370.95,378.60) rotate(-40)" font-size="7.15" text-anchor="end" >IHT</text>
<text transform="translate(273.10,337.70) rotate(-90) scale(1.1497,1)" font-size="6.6" >Relative cell apoptosis</text>
<path d="M308.40,236.80 V234.90 H369.70 V236.80" fill="none" stroke="#555" stroke-width="0.65"/>
<text transform="translate(314.40,231.30) scale(0.9159,1)" font-size="6.0" fill="#333" ><tspan font-size="1.2em" dy="0.60">****</tspan><tspan dy="-0.60"> </tspan>P = 6.75 × 10<tspan font-size="0.72em" dy="-2.10">−5</tspan></text>
<path d="M308.40,255.10 V253.20 H337.40 V255.10" fill="none" stroke="#555" stroke-width="0.65"/>
<text transform="translate(303.30,249.40) scale(0.9177,1)" font-size="6.0" fill="#333" ><tspan font-size="1.2em" dy="0.60">****</tspan><tspan dy="-0.60"> </tspan><tspan font-style="italic">P</tspan> = 5.23 × 10<tspan font-size="0.72em" dy="-2.10">−6</tspan></text>
<text transform="translate(323.50,217.50) scale(0.9835,1)" font-size="7.7" >Raji cells</text>
<text transform="translate(267.04,212.50)" font-size="11.6" font-weight="bold" fill="#000" class="lt">h</text>
<line x1="470.50" y1="297.50" x2="536.40" y2="297.50" stroke="#c2c2c2" stroke-width="0.9" stroke-dasharray="2.9 2.2"/>
<rect x="475.00" y="297.20" width="13.00" height="69.30" fill="#d4473a"/>
<rect x="496.20" y="309.88" width="13.00" height="56.62" fill="#90aece"/>
<rect x="517.80" y="306.69" width="13.00" height="59.81" fill="#64a890"/>
<circle cx="480.70" cy="294.20" r="1.95" fill="#000" />
<circle cx="482.10" cy="296.00" r="1.95" fill="#000" />
<circle cx="483.00" cy="297.90" r="1.95" fill="#000" />
<circle cx="479.80" cy="296.50" r="1.95" fill="#000" />
<circle cx="483.50" cy="299.00" r="1.95" fill="#000" />
<circle cx="503.70" cy="305.20" r="1.95" fill="#000" />
<circle cx="501.40" cy="308.90" r="1.95" fill="#000" />
<circle cx="502.30" cy="311.50" r="1.95" fill="#000" />
<circle cx="504.60" cy="311.50" r="1.95" fill="#000" />
<circle cx="501.20" cy="312.40" r="1.95" fill="#000" />
<circle cx="525.30" cy="300.60" r="1.95" fill="#000" />
<circle cx="522.40" cy="302.50" r="1.95" fill="#000" />
<circle cx="524.00" cy="307.50" r="1.95" fill="#000" />
<circle cx="524.90" cy="310.50" r="1.95" fill="#000" />
<circle cx="523.00" cy="309.40" r="1.95" fill="#000" />
<line x1="470.50" y1="262.15" x2="470.50" y2="366.50" stroke="#a0a0a0" stroke-width="0.9" />
<line x1="467.70" y1="366.50" x2="534.40" y2="366.50" stroke="#777" stroke-width="0.9" />
<line x1="467.70" y1="366.50" x2="470.50" y2="366.50" stroke="#777" stroke-width="0.8" />
<text transform="translate(465.20,368.85)" font-size="6.0" text-anchor="end" fill="#444" >0</text>
<line x1="467.70" y1="331.85" x2="470.50" y2="331.85" stroke="#777" stroke-width="0.8" />
<text transform="translate(465.20,334.20)" font-size="6.0" text-anchor="end" fill="#444" >0.5</text>
<line x1="467.70" y1="297.20" x2="470.50" y2="297.20" stroke="#777" stroke-width="0.8" />
<text transform="translate(465.20,299.55)" font-size="6.0" text-anchor="end" fill="#444" >1.0</text>
<line x1="467.70" y1="262.55" x2="470.50" y2="262.55" stroke="#777" stroke-width="0.8" />
<text transform="translate(465.20,264.90)" font-size="6.0" text-anchor="end" fill="#444" >1.5</text>
<line x1="481.50" y1="366.50" x2="481.50" y2="369.10" stroke="#777" stroke-width="0.8" />
<text transform="translate(485.30,374.70) rotate(-40)" font-size="7.15" text-anchor="end" >DMSO</text>
<line x1="502.70" y1="366.50" x2="502.70" y2="369.10" stroke="#777" stroke-width="0.8" />
<text transform="translate(506.00,374.70) rotate(-40)" font-size="7.15" text-anchor="end" >MYC-RiboTAC</text>
<line x1="524.30" y1="366.50" x2="524.30" y2="369.10" stroke="#777" stroke-width="0.8" />
<text transform="translate(527.80,376.50) rotate(-40)" font-size="7.15" text-anchor="end" >IHT</text>
<text transform="translate(449.90,351.20) rotate(-90) scale(1.1713,1)" font-size="6.6" ><tspan font-style="italic">Renilla</tspan>/firefly signal</text>
<path d="M481.20,269.60 V267.70 H524.70 V269.60" fill="none" stroke="#555" stroke-width="0.65"/>
<text transform="translate(481.60,264.20) scale(0.9227,1)" font-size="6.0" fill="#333" ><tspan font-size="1.2em" dy="0.60">**</tspan><tspan dy="-0.60"> </tspan><tspan font-style="italic">P</tspan> = 1.51 × 10<tspan font-size="0.72em" dy="-2.10">−3</tspan></text>
<path d="M481.20,284.80 V282.90 H503.50 V284.80" fill="none" stroke="#555" stroke-width="0.65"/>
<text transform="translate(473.70,279.50) scale(0.8824,1)" font-size="6.0" fill="#333" ><tspan font-size="1.2em" dy="0.60">****</tspan><tspan dy="-0.60"> </tspan>P = 5.41 × 10<tspan font-size="0.72em" dy="-2.10">−6</tspan></text>
<text transform="translate(410.43,258.70)" font-size="11.6" font-weight="bold" fill="#000" class="lt">j</text>
<rect x="624.70" y="296.70" width="12.80" height="69.80" fill="#d4473a"/>
<rect x="646.30" y="300.40" width="12.80" height="66.10" fill="#90aece"/>
<rect x="667.60" y="292.93" width="12.80" height="73.57" fill="#64a890"/>
<line x1="620.50" y1="296.50" x2="687.00" y2="296.50" stroke="#c6c6c6" stroke-width="0.9" stroke-dasharray="2.9 2.2"/>
<circle cx="631.80" cy="290.80" r="1.95" fill="#000" />
<circle cx="630.60" cy="292.40" r="1.95" fill="#000" />
<circle cx="632.60" cy="296.10" r="1.95" fill="#000" />
<circle cx="632.20" cy="300.80" r="1.95" fill="#000" />
<circle cx="629.40" cy="304.00" r="1.95" fill="#000" />
<circle cx="651.30" cy="295.60" r="1.95" fill="#000" />
<circle cx="651.70" cy="297.70" r="1.95" fill="#000" />
<circle cx="654.10" cy="302.00" r="1.95" fill="#000" />
<circle cx="652.50" cy="302.80" r="1.95" fill="#000" />
<circle cx="650.60" cy="308.30" r="1.95" fill="#000" />
<circle cx="676.00" cy="289.60" r="1.95" fill="#000" />
<circle cx="674.60" cy="291.50" r="1.95" fill="#000" />
<circle cx="675.50" cy="294.80" r="1.95" fill="#000" />
<circle cx="672.00" cy="296.70" r="1.95" fill="#000" />
<circle cx="673.50" cy="296.00" r="1.95" fill="#000" />
<line x1="620.50" y1="261.40" x2="620.50" y2="366.50" stroke="#777" stroke-width="0.9" />
<line x1="617.70" y1="366.50" x2="685.00" y2="366.50" stroke="#777" stroke-width="0.9" />
<line x1="617.70" y1="366.50" x2="620.50" y2="366.50" stroke="#777" stroke-width="0.8" />
<text transform="translate(613.80,368.85)" font-size="6.0" text-anchor="end" fill="#444" >0</text>
<line x1="617.70" y1="331.60" x2="620.50" y2="331.60" stroke="#777" stroke-width="0.8" />
<text transform="translate(613.80,333.95)" font-size="6.0" text-anchor="end" fill="#444" >0.5</text>
<line x1="617.70" y1="296.70" x2="620.50" y2="296.70" stroke="#777" stroke-width="0.8" />
<text transform="translate(613.80,299.05)" font-size="6.0" text-anchor="end" fill="#444" >1.0</text>
<line x1="617.70" y1="261.80" x2="620.50" y2="261.80" stroke="#777" stroke-width="0.8" />
<text transform="translate(613.80,264.15)" font-size="6.0" text-anchor="end" fill="#444" >1.5</text>
<line x1="631.10" y1="366.50" x2="631.10" y2="369.10" stroke="#777" stroke-width="0.8" />
<text transform="translate(633.70,376.40) rotate(-40)" font-size="7.15" text-anchor="end" >DMSO</text>
<line x1="652.70" y1="366.50" x2="652.70" y2="369.10" stroke="#777" stroke-width="0.8" />
<text transform="translate(654.80,376.40) rotate(-40)" font-size="7.15" text-anchor="end" >MYC-RiboTAC</text>
<line x1="674.00" y1="366.50" x2="674.00" y2="369.10" stroke="#777" stroke-width="0.8" />
<text transform="translate(676.30,378.20) rotate(-40)" font-size="7.15" text-anchor="end" >IHT</text>
<text transform="translate(597.70,347.40) rotate(-90) scale(1.1261,1)" font-size="6.6" ><tspan font-style="italic">Renilla/Firefly</tspan> signal</text>
<path d="M631.20,269.40 V267.50 H673.90 V269.40" fill="none" stroke="#555" stroke-width="0.65"/>
<text transform="translate(629.90,264.60) scale(0.9224,1)" font-size="6.0" fill="#333" >NS P = 1.05 × 10<tspan font-size="0.72em" dy="-2.10">−1</tspan></text>
<path d="M631.20,284.80 V282.90 H652.60 V284.80" fill="none" stroke="#555" stroke-width="0.65"/>
<text transform="translate(622.90,280.00) scale(0.9322,1)" font-size="6.0" fill="#333" >NS P = 3.23 × 10<tspan font-size="0.72em" dy="-2.10">−1</tspan></text>
<text transform="translate(546.54,258.40)" font-size="11.6" font-weight="bold" fill="#000" class="lt">k</text>
<text transform="translate(186.80,9.40)" font-size="6.9" text-anchor="middle" fill="#333" >0</text>
<line x1="174.30" y1="11.60" x2="199.80" y2="11.60" stroke="#555" stroke-width="0.7" />
<text transform="translate(203.20,9.40) scale(0.8011,1)" font-size="6.9" fill="#333" >1 × 10<tspan font-size="0.72em" dy="-2.40">−6</tspan><tspan dy="2.40"> M</tspan></text>
<line x1="203.00" y1="11.60" x2="229.90" y2="11.60" stroke="#555" stroke-width="0.7" />
<text transform="translate(232.30,9.40) scale(0.7797,1)" font-size="6.9" fill="#333" >1 × 10<tspan font-size="0.72em" dy="-2.40">−5</tspan><tspan dy="2.40"> M</tspan></text>
<line x1="232.20" y1="11.60" x2="258.30" y2="11.60" stroke="#555" stroke-width="0.7" />
<text transform="translate(259.80,9.40) scale(0.8538,1)" font-size="6.9" fill="#333" >(kDa)</text>
<defs><filter id="bl" x="-50%" y="-100%" width="200%" height="300%"><feGaussianBlur stdDeviation="0.55"/></filter></defs>
<rect x="170.9" y="14.3" width="90.4" height="15.9" rx="1.2" fill="#fdfdfd" stroke="#4a4a4a" stroke-width="0.8"/>
<rect x="170.9" y="36.1" width="90.4" height="15.3" rx="1.2" fill="#fdfdfd" stroke="#4a4a4a" stroke-width="0.8"/>
<g filter="url(#bl)">
<rect x="173.00" y="21.6" width="7.0" height="3.4" rx="1.5" fill="#2e2e2e"/>
<rect x="182.70" y="21.6" width="7.0" height="3.4" rx="1.5" fill="#2e2e2e"/>
<rect x="192.40" y="21.6" width="7.0" height="3.4" rx="1.5" fill="#383838"/>
<rect x="202.10" y="21.6" width="7.0" height="3.4" rx="1.5" fill="#a2a2a2"/>
<rect x="212.10" y="21.6" width="7.0" height="3.4" rx="1.5" fill="#a8a8a8"/>
<rect x="222.10" y="21.6" width="7.0" height="3.4" rx="1.5" fill="#a4a4a4"/>
<rect x="232.00" y="21.6" width="7.0" height="3.4" rx="1.5" fill="#d6d6d6"/>
<rect x="241.80" y="21.6" width="7.0" height="3.4" rx="1.5" fill="#c8c8c8"/>
<rect x="251.60" y="21.6" width="7.0" height="3.4" rx="1.5" fill="#d0d0d0"/>
<rect x="172.70" y="42.30" width="7.6" height="3.2" rx="1.3" fill="#0a0a0a"/>
<rect x="182.40" y="42.30" width="7.6" height="3.2" rx="1.3" fill="#0a0a0a"/>
<rect x="192.10" y="42.30" width="7.6" height="3.2" rx="1.3" fill="#0a0a0a"/>
<rect x="201.80" y="42.55" width="7.6" height="2.7" rx="1.3" fill="#0a0a0a"/>
<rect x="211.80" y="42.55" width="7.6" height="2.7" rx="1.3" fill="#0a0a0a"/>
<rect x="221.80" y="42.55" width="7.6" height="2.7" rx="1.3" fill="#0a0a0a"/>
<rect x="231.70" y="42.55" width="7.6" height="2.7" rx="1.3" fill="#0a0a0a"/>
<rect x="241.50" y="42.55" width="7.6" height="2.7" rx="1.3" fill="#0a0a0a"/>
<rect x="251.30" y="42.55" width="7.6" height="2.7" rx="1.3" fill="#0a0a0a"/>
</g>
<line x1="261.20" y1="23.60" x2="263.60" y2="23.60" stroke="#555" stroke-width="0.7" />
<line x1="261.20" y1="43.90" x2="263.60" y2="43.90" stroke="#555" stroke-width="0.7" />
<text transform="translate(265.60,25.90)" font-size="6.5" fill="#333" >60</text>
<text transform="translate(265.60,46.20)" font-size="6.5" fill="#333" >37</text>
<text transform="translate(168.60,29.30) rotate(-90) scale(0.9137,1)" font-size="6.6" fill="#333" >MYC</text>
<text transform="translate(168.60,51.50) rotate(-90) scale(0.7840,1)" font-size="6.6" fill="#333" >GAPDH</text>
<text transform="translate(409.74,212.50)" font-size="11.6" font-weight="bold" fill="#000" class="lt">i</text>
<line x1="418.30" y1="233.40" x2="678.70" y2="233.40" stroke="#111" stroke-width="1.1" />
<rect x="423.00" y="228.90" width="3.60" height="8.80" fill="#c4c4c4"/>
<rect x="445.90" y="228.90" width="51.10" height="8.80" fill="#d96a80"/>
<rect x="510.30" y="228.90" width="37.70" height="8.80" fill="#e8833e"/>
<rect x="566.60" y="228.90" width="3.60" height="8.80" fill="#c98fc9"/>
<rect x="596.70" y="228.90" width="3.90" height="8.80" fill="#c8c8c8"/>
<rect x="619.30" y="228.90" width="37.80" height="8.80" fill="#e6b53a"/>
<rect x="671.20" y="228.90" width="3.90" height="8.80" fill="#c98fc9"/>
<text transform="translate(415.40,216.90) scale(1.1037,1)" font-size="7.0" fill="#2a2a2a" >SV40</text>
<text transform="translate(409.10,225.10) scale(1.1281,1)" font-size="7.0" fill="#2a2a2a" >promoter</text>
<text transform="translate(463.10,216.90) scale(1.0414,1)" font-size="7.0" font-style="italic" fill="#2a2a2a" >MYC</text>
<text transform="translate(463.70,225.10) scale(0.9303,1)" font-size="7.0" fill="#2a2a2a" >IRES</text>
<text transform="translate(517.30,216.90) scale(1.0654,1)" font-size="7.0" font-style="italic" fill="#2a2a2a" >Renilla</text>
<text transform="translate(512.60,225.10) scale(1.1149,1)" font-size="7.0" fill="#2a2a2a" >luciferase</text>
<text transform="translate(554.30,216.90) scale(1.0894,1)" font-size="7.0" fill="#2a2a2a" >Poly(A)</text>
<text transform="translate(556.30,225.10) scale(1.1099,1)" font-size="7.0" fill="#2a2a2a" >signal</text>
<text transform="translate(585.80,216.90) scale(1.0012,1)" font-size="7.0" fill="#2a2a2a" >HSK-TV</text>
<text transform="translate(582.50,225.10) scale(1.1281,1)" font-size="7.0" fill="#2a2a2a" >promoter</text>
<text transform="translate(627.20,216.90) scale(1.1073,1)" font-size="7.0" fill="#2a2a2a" >Firefly</text>
<text transform="translate(621.40,225.10) scale(1.1282,1)" font-size="7.0" fill="#2a2a2a" >luciferase</text>
<text transform="translate(660.60,216.90) scale(1.0894,1)" font-size="7.0" fill="#2a2a2a" >Poly(A)</text>
<text transform="translate(663.20,225.10) scale(1.0279,1)" font-size="7.0" fill="#2a2a2a" >signal</text>
<polyline points="417.2,362.8 417.2,362.8 417.2,355.9 417.2,349.0 417.2,342.1 417.2,335.2 417.2,328.3 417.2,321.4 417.2,314.5 417.2,307.6 413.5,302.2 413.5,296.4 417.2,291.5 417.2,284.7 417.2,277.9 417.1,271.6 422.4,268.4 428.2,271.7 428.3,277.9 428.3,284.7 428.3,291.5 431.9,296.4 431.9,302.2 428.3,307.6 428.3,314.5 428.3,321.4 428.3,328.3 428.3,335.2 428.3,342.1 428.3,349.0 428.3,355.9 428.3,362.8" fill="none" stroke="#aaa" stroke-width="0.5"/>
<line x1="419.20" y1="277.90" x2="426.30" y2="277.90" stroke="#9fb8e0" stroke-width="1.1" />
<line x1="419.20" y1="284.70" x2="426.30" y2="284.70" stroke="#9fb8e0" stroke-width="1.1" />
<line x1="419.20" y1="291.50" x2="426.30" y2="291.50" stroke="#9fb8e0" stroke-width="1.1" />
<line x1="419.20" y1="307.60" x2="426.30" y2="307.60" stroke="#9fb8e0" stroke-width="1.1" />
<line x1="419.20" y1="314.50" x2="426.30" y2="314.50" stroke="#9fb8e0" stroke-width="1.1" />
<line x1="419.20" y1="321.40" x2="426.30" y2="321.40" stroke="#9fb8e0" stroke-width="1.1" />
<line x1="419.20" y1="328.30" x2="426.30" y2="328.30" stroke="#9fb8e0" stroke-width="1.1" />
<line x1="419.20" y1="335.20" x2="426.30" y2="335.20" stroke="#9fb8e0" stroke-width="1.1" />
<line x1="419.20" y1="342.10" x2="426.30" y2="342.10" stroke="#9fb8e0" stroke-width="1.1" />
<line x1="419.20" y1="349.00" x2="426.30" y2="349.00" stroke="#9fb8e0" stroke-width="1.1" />
<line x1="419.20" y1="355.90" x2="426.30" y2="355.90" stroke="#9fb8e0" stroke-width="1.1" />
<line x1="419.20" y1="362.80" x2="426.30" y2="362.80" stroke="#9fb8e0" stroke-width="1.1" />
<circle cx="417.20" cy="362.80" r="2.2" fill="#c8c8c8" stroke="#8c8c8c" stroke-width="0.6"/>
<text transform="translate(417.20,363.90)" font-size="3.2" text-anchor="middle" fill="#e4e4e4" class="nt">A</text>
<circle cx="417.20" cy="355.90" r="2.2" fill="#c8c8c8" stroke="#8c8c8c" stroke-width="0.6"/>
<text transform="translate(417.20,357.00)" font-size="3.2" text-anchor="middle" fill="#e4e4e4" class="nt">U</text>
<circle cx="417.20" cy="349.00" r="2.2" fill="#c8c8c8" stroke="#8c8c8c" stroke-width="0.6"/>
<text transform="translate(417.20,350.10)" font-size="3.2" text-anchor="middle" fill="#e4e4e4" class="nt">G</text>
<circle cx="417.20" cy="342.10" r="2.2" fill="#c8c8c8" stroke="#8c8c8c" stroke-width="0.6"/>
<text transform="translate(417.20,343.20)" font-size="3.2" text-anchor="middle" fill="#e4e4e4" class="nt">C</text>
<circle cx="417.20" cy="335.20" r="2.2" fill="#c8c8c8" stroke="#8c8c8c" stroke-width="0.6"/>
<text transform="translate(417.20,336.30)" font-size="3.2" text-anchor="middle" fill="#e4e4e4" class="nt">A</text>
<circle cx="417.20" cy="328.30" r="2.2" fill="#c8c8c8" stroke="#8c8c8c" stroke-width="0.6"/>
<text transform="translate(417.20,329.40)" font-size="3.2" text-anchor="middle" fill="#e4e4e4" class="nt">U</text>
<circle cx="417.20" cy="321.40" r="2.2" fill="#c8c8c8" stroke="#8c8c8c" stroke-width="0.6"/>
<text transform="translate(417.20,322.50)" font-size="3.2" text-anchor="middle" fill="#e4e4e4" class="nt">G</text>
<circle cx="417.20" cy="314.50" r="2.2" fill="#c8c8c8" stroke="#8c8c8c" stroke-width="0.6"/>
<text transform="translate(417.20,315.60)" font-size="3.2" text-anchor="middle" fill="#e4e4e4" class="nt">C</text>
<circle cx="417.20" cy="307.60" r="2.2" fill="#c8c8c8" stroke="#8c8c8c" stroke-width="0.6"/>
<text transform="translate(417.20,308.70)" font-size="3.2" text-anchor="middle" fill="#e4e4e4" class="nt">A</text>
<circle cx="413.50" cy="302.20" r="2.2" fill="#c8c8c8" stroke="#8c8c8c" stroke-width="0.6"/>
<text transform="translate(413.50,303.30)" font-size="3.2" text-anchor="middle" fill="#e4e4e4" class="nt">U</text>
<circle cx="413.50" cy="296.40" r="2.2" fill="#c8c8c8" stroke="#8c8c8c" stroke-width="0.6"/>
<text transform="translate(413.50,297.50)" font-size="3.2" text-anchor="middle" fill="#e4e4e4" class="nt">G</text>
<circle cx="417.20" cy="291.50" r="2.2" fill="#c8c8c8" stroke="#8c8c8c" stroke-width="0.6"/>
<text transform="translate(417.20,292.60)" font-size="3.2" text-anchor="middle" fill="#e4e4e4" class="nt">C</text>
<circle cx="417.20" cy="284.70" r="2.2" fill="#c8c8c8" stroke="#8c8c8c" stroke-width="0.6"/>
<text transform="translate(417.20,285.80)" font-size="3.2" text-anchor="middle" fill="#e4e4e4" class="nt">A</text>
<circle cx="417.20" cy="277.90" r="2.2" fill="#c8c8c8" stroke="#8c8c8c" stroke-width="0.6"/>
<text transform="translate(417.20,279.00)" font-size="3.2" text-anchor="middle" fill="#e4e4e4" class="nt">U</text>
<circle cx="417.10" cy="271.60" r="2.2" fill="#c8c8c8" stroke="#8c8c8c" stroke-width="0.6"/>
<text transform="translate(417.10,272.70)" font-size="3.2" text-anchor="middle" fill="#e4e4e4" class="nt">G</text>
<circle cx="422.40" cy="268.40" r="2.2" fill="#c8c8c8" stroke="#8c8c8c" stroke-width="0.6"/>
<text transform="translate(422.40,269.50)" font-size="3.2" text-anchor="middle" fill="#e4e4e4" class="nt">C</text>
<circle cx="428.20" cy="271.70" r="2.2" fill="#c8c8c8" stroke="#8c8c8c" stroke-width="0.6"/>
<text transform="translate(428.20,272.80)" font-size="3.2" text-anchor="middle" fill="#e4e4e4" class="nt">A</text>
<circle cx="428.30" cy="277.90" r="2.2" fill="#c8c8c8" stroke="#8c8c8c" stroke-width="0.6"/>
<text transform="translate(428.30,279.00)" font-size="3.2" text-anchor="middle" fill="#e4e4e4" class="nt">U</text>
<circle cx="428.30" cy="284.70" r="2.2" fill="#c8c8c8" stroke="#8c8c8c" stroke-width="0.6"/>
<text transform="translate(428.30,285.80)" font-size="3.2" text-anchor="middle" fill="#e4e4e4" class="nt">G</text>
<circle cx="428.30" cy="291.50" r="2.2" fill="#c8c8c8" stroke="#8c8c8c" stroke-width="0.6"/>
<text transform="translate(428.30,292.60)" font-size="3.2" text-anchor="middle" fill="#e4e4e4" class="nt">C</text>
<circle cx="431.90" cy="296.40" r="2.2" fill="#c8c8c8" stroke="#8c8c8c" stroke-width="0.6"/>
<text transform="translate(431.90,297.50)" font-size="3.2" text-anchor="middle" fill="#e4e4e4" class="nt">A</text>
<circle cx="431.90" cy="302.20" r="2.2" fill="#c8c8c8" stroke="#8c8c8c" stroke-width="0.6"/>
<text transform="translate(431.90,303.30)" font-size="3.2" text-anchor="middle" fill="#e4e4e4" class="nt">U</text>
<circle cx="428.30" cy="307.60" r="2.2" fill="#c8c8c8" stroke="#8c8c8c" stroke-width="0.6"/>
<text transform="translate(428.30,308.70)" font-size="3.2" text-anchor="middle" fill="#e4e4e4" class="nt">G</text>
<circle cx="428.30" cy="314.50" r="2.2" fill="#c8c8c8" stroke="#8c8c8c" stroke-width="0.6"/>
<text transform="translate(428.30,315.60)" font-size="3.2" text-anchor="middle" fill="#e4e4e4" class="nt">C</text>
<circle cx="428.30" cy="321.40" r="2.2" fill="#c8c8c8" stroke="#8c8c8c" stroke-width="0.6"/>
<text transform="translate(428.30,322.50)" font-size="3.2" text-anchor="middle" fill="#e4e4e4" class="nt">A</text>
<circle cx="428.30" cy="328.30" r="2.2" fill="#c8c8c8" stroke="#8c8c8c" stroke-width="0.6"/>
<text transform="translate(428.30,329.40)" font-size="3.2" text-anchor="middle" fill="#e4e4e4" class="nt">U</text>
<circle cx="428.30" cy="335.20" r="2.2" fill="#c8c8c8" stroke="#8c8c8c" stroke-width="0.6"/>
<text transform="translate(428.30,336.30)" font-size="3.2" text-anchor="middle" fill="#e4e4e4" class="nt">G</text>
<circle cx="428.30" cy="342.10" r="2.2" fill="#c8c8c8" stroke="#8c8c8c" stroke-width="0.6"/>
<text transform="translate(428.30,343.20)" font-size="3.2" text-anchor="middle" fill="#e4e4e4" class="nt">C</text>
<circle cx="428.30" cy="349.00" r="2.2" fill="#c8c8c8" stroke="#8c8c8c" stroke-width="0.6"/>
<text transform="translate(428.30,350.10)" font-size="3.2" text-anchor="middle" fill="#e4e4e4" class="nt">A</text>
<circle cx="428.30" cy="355.90" r="2.2" fill="#c8c8c8" stroke="#8c8c8c" stroke-width="0.6"/>
<text transform="translate(428.30,357.00)" font-size="3.2" text-anchor="middle" fill="#e4e4e4" class="nt">U</text>
<circle cx="428.30" cy="362.80" r="2.2" fill="#c8c8c8" stroke="#8c8c8c" stroke-width="0.6"/>
<text transform="translate(428.30,363.90)" font-size="3.2" text-anchor="middle" fill="#e4e4e4" class="nt">G</text>
<line x1="417.20" y1="366.40" x2="417.20" y2="368.40" stroke="#999" stroke-width="0.5" />
<line x1="428.30" y1="366.40" x2="428.30" y2="368.40" stroke="#999" stroke-width="0.5" />
<text transform="translate(417.20,375.90)" font-size="6.3" text-anchor="middle" fill="#333" >1</text>
<text transform="translate(428.30,375.90)" font-size="6.3" text-anchor="middle" fill="#333" >31</text>
<text transform="translate(422.20,386.30)" font-size="6.9" text-anchor="middle" >WT</text>
<text transform="translate(405.80,394.70) scale(0.9924,1)" font-size="6.9" ><tspan font-style="italic">MYC</tspan> IRES</text>
<polyline points="565.4,363.3 565.4,356.8 565.4,350.2 565.4,343.7 565.4,337.2 565.4,330.6 565.4,324.1 565.4,317.6 565.4,311.0 565.4,304.5 565.4,298.0 565.4,291.5 565.4,284.9 565.4,278.4 565.4,271.8 571.0,268.8 576.3,271.8 576.2,278.4 576.2,284.9 576.2,291.5 576.2,298.0 576.2,304.5 576.2,311.0 576.2,317.6 576.2,324.1 576.2,330.6 576.2,337.2 576.2,343.7 576.2,350.2 576.2,356.8 576.2,363.3" fill="none" stroke="#aaa" stroke-width="0.5"/>
<line x1="567.40" y1="278.40" x2="574.20" y2="278.40" stroke="#9fb8e0" stroke-width="1.1" />
<line x1="567.40" y1="284.93" x2="574.20" y2="284.93" stroke="#9fb8e0" stroke-width="1.1" />
<line x1="567.40" y1="291.46" x2="574.20" y2="291.46" stroke="#9fb8e0" stroke-width="1.1" />
<line x1="567.40" y1="297.99" x2="574.20" y2="297.99" stroke="#9fb8e0" stroke-width="1.1" />
<line x1="567.40" y1="304.52" x2="574.20" y2="304.52" stroke="#9fb8e0" stroke-width="1.1" />
<line x1="567.40" y1="311.05" x2="574.20" y2="311.05" stroke="#9fb8e0" stroke-width="1.1" />
<line x1="567.40" y1="317.58" x2="574.20" y2="317.58" stroke="#9fb8e0" stroke-width="1.1" />
<line x1="567.40" y1="324.11" x2="574.20" y2="324.11" stroke="#9fb8e0" stroke-width="1.1" />
<line x1="567.40" y1="330.64" x2="574.20" y2="330.64" stroke="#9fb8e0" stroke-width="1.1" />
<line x1="567.40" y1="337.17" x2="574.20" y2="337.17" stroke="#9fb8e0" stroke-width="1.1" />
<line x1="567.40" y1="343.70" x2="574.20" y2="343.70" stroke="#9fb8e0" stroke-width="1.1" />
<line x1="567.40" y1="350.23" x2="574.20" y2="350.23" stroke="#9fb8e0" stroke-width="1.1" />
<line x1="567.40" y1="356.76" x2="574.20" y2="356.76" stroke="#9fb8e0" stroke-width="1.1" />
<line x1="567.40" y1="363.29" x2="574.20" y2="363.29" stroke="#9fb8e0" stroke-width="1.1" />
<circle cx="565.40" cy="363.29" r="2.2" fill="#c8c8c8" stroke="#8c8c8c" stroke-width="0.6"/>
<text transform="translate(565.40,364.39)" font-size="3.2" text-anchor="middle" fill="#e4e4e4" class="nt">C</text>
<circle cx="565.40" cy="356.76" r="2.2" fill="#c8c8c8" stroke="#8c8c8c" stroke-width="0.6"/>
<text transform="translate(565.40,357.86)" font-size="3.2" text-anchor="middle" fill="#e4e4e4" class="nt">A</text>
<circle cx="565.40" cy="350.23" r="2.2" fill="#c8c8c8" stroke="#8c8c8c" stroke-width="0.6"/>
<text transform="translate(565.40,351.33)" font-size="3.2" text-anchor="middle" fill="#e4e4e4" class="nt">U</text>
<circle cx="565.40" cy="343.70" r="2.2" fill="#c8c8c8" stroke="#8c8c8c" stroke-width="0.6"/>
<text transform="translate(565.40,344.80)" font-size="3.2" text-anchor="middle" fill="#e4e4e4" class="nt">G</text>
<circle cx="565.40" cy="337.17" r="2.2" fill="#c8c8c8" stroke="#8c8c8c" stroke-width="0.6"/>
<text transform="translate(565.40,338.27)" font-size="3.2" text-anchor="middle" fill="#e4e4e4" class="nt">C</text>
<circle cx="565.40" cy="330.64" r="2.2" fill="#c8c8c8" stroke="#8c8c8c" stroke-width="0.6"/>
<text transform="translate(565.40,331.74)" font-size="3.2" text-anchor="middle" fill="#e4e4e4" class="nt">A</text>
<circle cx="565.40" cy="324.11" r="2.2" fill="#c8c8c8" stroke="#8c8c8c" stroke-width="0.6"/>
<text transform="translate(565.40,325.21)" font-size="3.2" text-anchor="middle" fill="#e4e4e4" class="nt">U</text>
<circle cx="565.40" cy="317.58" r="2.2" fill="#c8c8c8" stroke="#8c8c8c" stroke-width="0.6"/>
<text transform="translate(565.40,318.68)" font-size="3.2" text-anchor="middle" fill="#e4e4e4" class="nt">G</text>
<circle cx="565.40" cy="311.05" r="2.2" fill="#c8c8c8" stroke="#8c8c8c" stroke-width="0.6"/>
<text transform="translate(565.40,312.15)" font-size="3.2" text-anchor="middle" fill="#e4e4e4" class="nt">C</text>
<circle cx="565.40" cy="304.52" r="2.2" fill="#c8c8c8" stroke="#8c8c8c" stroke-width="0.6"/>
<text transform="translate(565.40,305.62)" font-size="3.2" text-anchor="middle" fill="#e4e4e4" class="nt">A</text>
<circle cx="565.40" cy="297.99" r="2.2" fill="#c8c8c8" stroke="#8c8c8c" stroke-width="0.6"/>
<text transform="translate(565.40,299.09)" font-size="3.2" text-anchor="middle" fill="#e4e4e4" class="nt">U</text>
<circle cx="565.40" cy="291.46" r="2.2" fill="#c8c8c8" stroke="#8c8c8c" stroke-width="0.6"/>
<text transform="translate(565.40,292.56)" font-size="3.2" text-anchor="middle" fill="#e4e4e4" class="nt">G</text>
<circle cx="565.40" cy="284.93" r="2.2" fill="#c8c8c8" stroke="#8c8c8c" stroke-width="0.6"/>
<text transform="translate(565.40,286.03)" font-size="3.2" text-anchor="middle" fill="#e4e4e4" class="nt">C</text>
<circle cx="565.40" cy="278.40" r="2.2" fill="#c8c8c8" stroke="#8c8c8c" stroke-width="0.6"/>
<text transform="translate(565.40,279.50)" font-size="3.2" text-anchor="middle" fill="#e4e4e4" class="nt">A</text>
<circle cx="565.40" cy="271.80" r="2.2" fill="#c8c8c8" stroke="#8c8c8c" stroke-width="0.6"/>
<text transform="translate(565.40,272.90)" font-size="3.2" text-anchor="middle" fill="#e4e4e4" class="nt">U</text>
<circle cx="571.00" cy="268.80" r="2.2" fill="#c8c8c8" stroke="#8c8c8c" stroke-width="0.6"/>
<text transform="translate(571.00,269.90)" font-size="3.2" text-anchor="middle" fill="#e4e4e4" class="nt">G</text>
<circle cx="576.30" cy="271.80" r="2.2" fill="#c8c8c8" stroke="#8c8c8c" stroke-width="0.6"/>
<text transform="translate(576.30,272.90)" font-size="3.2" text-anchor="middle" fill="#e4e4e4" class="nt">C</text>
<circle cx="576.20" cy="278.40" r="2.2" fill="#c8c8c8" stroke="#8c8c8c" stroke-width="0.6"/>
<text transform="translate(576.20,279.50)" font-size="3.2" text-anchor="middle" fill="#e4e4e4" class="nt">A</text>
<circle cx="576.20" cy="284.93" r="2.2" fill="#c8c8c8" stroke="#8c8c8c" stroke-width="0.6"/>
<text transform="translate(576.20,286.03)" font-size="3.2" text-anchor="middle" fill="#e4e4e4" class="nt">U</text>
<circle cx="576.20" cy="291.46" r="2.2" fill="#c8c8c8" stroke="#8c8c8c" stroke-width="0.6"/>
<text transform="translate(576.20,292.56)" font-size="3.2" text-anchor="middle" fill="#e4e4e4" class="nt">G</text>
<circle cx="576.20" cy="297.99" r="2.2" fill="#c8c8c8" stroke="#8c8c8c" stroke-width="0.6"/>
<text transform="translate(576.20,299.09)" font-size="3.2" text-anchor="middle" fill="#e4e4e4" class="nt">C</text>
<circle cx="576.20" cy="304.52" r="2.2" fill="#c8c8c8" stroke="#8c8c8c" stroke-width="0.6"/>
<text transform="translate(576.20,305.62)" font-size="3.2" text-anchor="middle" fill="#e4e4e4" class="nt">A</text>
<circle cx="576.20" cy="311.05" r="2.2" fill="#c8c8c8" stroke="#8c8c8c" stroke-width="0.6"/>
<text transform="translate(576.20,312.15)" font-size="3.2" text-anchor="middle" fill="#e4e4e4" class="nt">U</text>
<circle cx="576.20" cy="317.58" r="2.2" fill="#c8c8c8" stroke="#8c8c8c" stroke-width="0.6"/>
<text transform="translate(576.20,318.68)" font-size="3.2" text-anchor="middle" fill="#e4e4e4" class="nt">G</text>
<circle cx="576.20" cy="324.11" r="2.2" fill="#c8c8c8" stroke="#8c8c8c" stroke-width="0.6"/>
<text transform="translate(576.20,325.21)" font-size="3.2" text-anchor="middle" fill="#e4e4e4" class="nt">C</text>
<circle cx="576.20" cy="330.64" r="2.2" fill="#c8c8c8" stroke="#8c8c8c" stroke-width="0.6"/>
<text transform="translate(576.20,331.74)" font-size="3.2" text-anchor="middle" fill="#e4e4e4" class="nt">A</text>
<circle cx="576.20" cy="337.17" r="2.2" fill="#c8c8c8" stroke="#8c8c8c" stroke-width="0.6"/>
<text transform="translate(576.20,338.27)" font-size="3.2" text-anchor="middle" fill="#e4e4e4" class="nt">U</text>
<circle cx="576.20" cy="343.70" r="2.2" fill="#c8c8c8" stroke="#8c8c8c" stroke-width="0.6"/>
<text transform="translate(576.20,344.80)" font-size="3.2" text-anchor="middle" fill="#e4e4e4" class="nt">G</text>
<circle cx="576.20" cy="350.23" r="2.2" fill="#c8c8c8" stroke="#8c8c8c" stroke-width="0.6"/>
<text transform="translate(576.20,351.33)" font-size="3.2" text-anchor="middle" fill="#e4e4e4" class="nt">C</text>
<circle cx="576.20" cy="356.76" r="2.2" fill="#c8c8c8" stroke="#8c8c8c" stroke-width="0.6"/>
<text transform="translate(576.20,357.86)" font-size="3.2" text-anchor="middle" fill="#e4e4e4" class="nt">A</text>
<circle cx="576.20" cy="363.29" r="2.2" fill="#c8c8c8" stroke="#8c8c8c" stroke-width="0.6"/>
<text transform="translate(576.20,364.39)" font-size="3.2" text-anchor="middle" fill="#e4e4e4" class="nt">U</text>
<circle cx="565.40" cy="297.99" r="2.2" fill="#2b80c2" stroke="#2b80c2" stroke-width="0.6"/>
<circle cx="576.20" cy="297.99" r="2.2" fill="#c5161f" stroke="#c5161f" stroke-width="0.6"/>
<circle cx="565.40" cy="304.52" r="2.2" fill="#e2a330" stroke="#e2a330" stroke-width="0.6"/>
<circle cx="576.20" cy="304.52" r="2.2" fill="#2b80c2" stroke="#2b80c2" stroke-width="0.6"/>
<line x1="565.40" y1="366.60" x2="565.40" y2="368.60" stroke="#999" stroke-width="0.5" />
<line x1="576.20" y1="366.60" x2="576.20" y2="368.60" stroke="#999" stroke-width="0.5" />
<text transform="translate(565.40,376.20)" font-size="6.3" text-anchor="middle" fill="#333" >1</text>
<text transform="translate(576.20,376.20)" font-size="6.3" text-anchor="middle" fill="#333" >31</text>
<text transform="translate(542.70,383.90) scale(1.0412,1)" font-size="7.3" >Fully base-paired</text>
<text transform="translate(555.70,392.40) scale(0.9684,1)" font-size="6.9" ><tspan font-style="italic">MYC</tspan> IRES</text>
</svg>
</body></html>
